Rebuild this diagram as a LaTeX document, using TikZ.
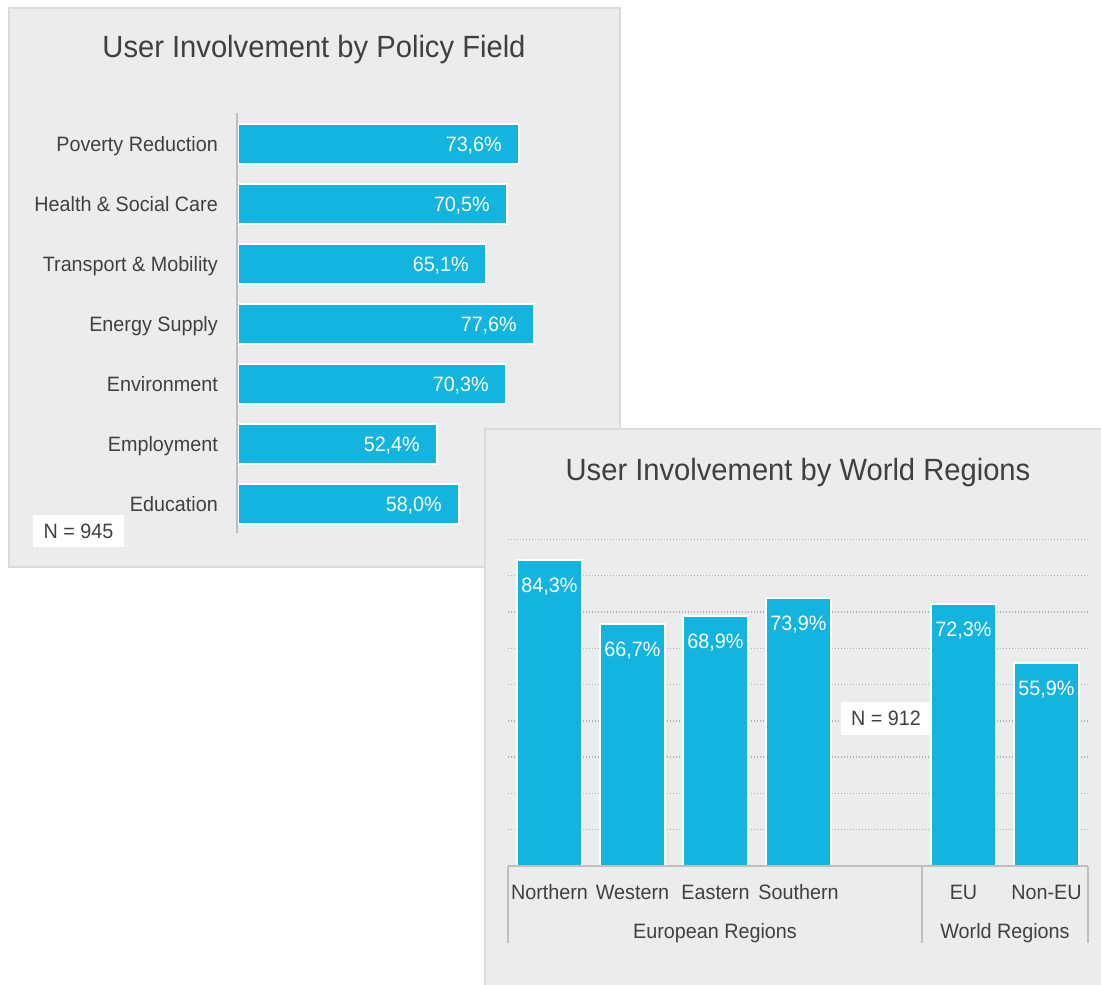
\documentclass[tikz,border=0pt]{standalone}
\usepackage{fontspec}
\setmainfont{Liberation Sans}[FakeStretch=0.95]
\definecolor{barc}{RGB}{19,180,221}
\definecolor{panel}{RGB}{235,236,238}
\definecolor{pborder}{RGB}{218,219,221}
\definecolor{txt}{RGB}{64,64,64}
\definecolor{axisc}{RGB}{191,191,191}
\definecolor{gridc}{RGB}{175,175,175}
\begin{document}
\begin{tikzpicture}[x=1pt,y=-1pt,
  panelbox/.style={fill=panel,draw=pborder,line width=2pt},
  barbox/.style={fill=barc,draw=white,line width=1.5pt},
  axisline/.style={draw=axisc,line width=2pt},
  gridline/.style={draw=gridc,line width=1.4pt,dash pattern=on 1.4pt off 1.6pt},
  title/.style={text=txt,font=\fontsize{30.7}{33}\selectfont,anchor=base,inner sep=0pt},
  lab/.style={text=txt,font=\fontsize{20.8}{23}\selectfont,inner sep=0pt,anchor=base east},
  clab/.style={text=txt,font=\fontsize{20.8}{23}\selectfont,inner sep=0pt,anchor=base},
  val/.style={text=white,font=\fontsize{20.8}{23}\selectfont,inner sep=0pt,anchor=base east},
  cval/.style={text=white,font=\fontsize{20.8}{23}\selectfont,inner sep=0pt,anchor=base},
  nbox/.style={fill=white,text=txt,font=\fontsize{20.8}{23}\selectfont,inner sep=0pt,minimum height=32pt}]
\useasboundingbox (0,0) rectangle (1101,985);
\fill[white] (0,0) rectangle (1101,985);

% ---------- Left panel ----------
\draw[panelbox] (9,8) rectangle (620,567);
\node[title] (t1) at (314,57) {User Involvement by Policy Field};

\draw[barbox] (238,124) rectangle (519,164);
\draw[barbox] (238,184) rectangle (507,224);
\draw[barbox] (238,244) rectangle (486,284);
\draw[barbox] (238,304) rectangle (534,344);
\draw[barbox] (238,364) rectangle (506,404);
\draw[barbox] (238,424) rectangle (437,464);
\draw[barbox] (238,484) rectangle (459,524);

\node[lab] (l1) at (218,151.5) {Poverty Reduction};
\node[lab] (l2) at (218,211.5) {Health \& Social Care};
\node[lab] (l3) at (218,271.5) {Transport \& Mobility};
\node[lab] (l4) at (218,331.5) {Energy Supply};
\node[lab] (l5) at (218,391.5) {Environment};
\node[lab] (l6) at (218,451.5) {Employment};
\node[lab] (l7) at (218,511.5) {Education};

\node[val] (v1) at (502,151.5) {73,6\%};
\node[val] (v2) at (490,211.5) {70,5\%};
\node[val] (v3) at (469,271.5) {65,1\%};
\node[val] (v4) at (517,331.5) {77,6\%};
\node[val] (v5) at (489,391.5) {70,3\%};
\node[val] (v6) at (420,451.5) {52,4\%};
\node[val] (v7) at (442,511.5) {58,0\%};

\coordinate (a1) at (237,113);
\coordinate (a2) at (237,533);
\draw[axisline] (a1) -- (a2);

\node[nbox,minimum width=91pt] (n1) at (78.5,531) {N = 945};

% ---------- Right panel ----------
\draw[panelbox] (485,429) rectangle (1102,986);
\node[title] (t2) at (798,480) {User Involvement by World Regions};

\foreach \k in {1,...,9}{
  \draw[gridline] (508,{866-36.3*\k}) -- (1090,{866-36.3*\k});
}

\draw[barbox] (517,560) rectangle (582,866);
\draw[barbox] (600,624) rectangle (665,866);
\draw[barbox] (683,616) rectangle (748,866);
\draw[barbox] (766,598) rectangle (831,866);
\draw[barbox] (931,604) rectangle (996,866);
\draw[barbox] (1014,663) rectangle (1079,866);

\node[cval] (w1) at (549.5,592) {84,3\%};
\node[cval] (w2) at (632.5,656) {66,7\%};
\node[cval] (w3) at (715.5,648) {68,9\%};
\node[cval] (w4) at (798.5,630) {73,9\%};
\node[cval] (w5) at (963.5,636) {72,3\%};
\node[cval] (w6) at (1046.5,695) {55,9\%};

\coordinate (b0) at (508,866);
\coordinate (b1) at (1088,866);
\coordinate (s0) at (508,943);
\coordinate (s1) at (922,866);
\coordinate (s2) at (922,943);
\coordinate (s3) at (1088,943);
\draw[axisline] (b0) -- (b1);
\draw[axisline] (b0) -- (s0);
\draw[axisline] (s1) -- (s2);
\draw[axisline] (b1) -- (s3);

\node[clab] (c1) at (549.5,899) {Northern};
\node[clab] (c2) at (632.5,899) {Western};
\node[clab] (c3) at (715.5,899) {Eastern};
\node[clab] (c4) at (798.5,899) {Southern};
\node[clab] (c5) at (963.5,899) {EU};
\node[clab] (c6) at (1046.5,899) {Non-EU};
\node[clab] (g1) at (715,938) {European Regions};
\node[clab] (g2) at (1005,938) {World Regions};

\node[nbox,minimum width=90pt,minimum height=33pt] (n2) at (886,718.5) {N = 912};
\end{tikzpicture}
\end{document}
